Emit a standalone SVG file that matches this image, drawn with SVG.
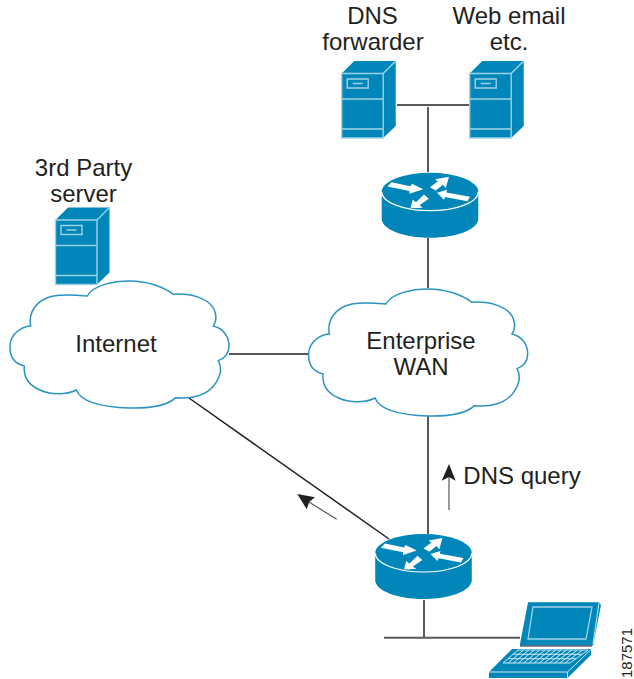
<svg xmlns="http://www.w3.org/2000/svg" width="634" height="679" viewBox="0 0 634 679">
<style>
text{font-family:"Liberation Sans",Arial,sans-serif;font-size:24px;fill:#231f20;text-anchor:middle}
.ln{fill:none;stroke:#231f20;stroke-width:1.5}
.gl{fill:none;stroke:#58595b;stroke-width:2}
.th{fill:none;stroke:#58595b;stroke-width:1.2}
.cl{fill:#fff;stroke:#2a93c2;stroke-width:4.5}
.sb{fill:#0086b9}
.se{fill:none;stroke:#9fd2e6;stroke-width:1.400}
.wh{fill:#fff}
</style>
<defs>
<path id="cloud" class="cl" d="M262 288C280 255 340 243 390 243C440 243 490 260 520 283C560 280 640 290 647 345C650 360 645 370 640 378C670 385 688 410 687 440C686 460 672 475 655 482C665 500 665 520 650 545C625 590 570 597 527 593C500 620 440 625 390 624C320 622 245 610 229 570C200 585 150 585 120 570C85 555 70 530 73 498C40 490 28 465 30 435C32 405 60 380 92 378C85 340 105 300 160 288C190 282 230 285 262 288Z"/>
<g id="srv">
<path class="sb" d="M0 12.500L12.500 0H54V65L41.500 77H0Z"/>
<path class="se" d="M0 12.500H41.500V77H0ZM41.500 12.500L54 0M0 38H41.500M0 68H41.500M5.500 18H26.500V27H5.500ZM11 22.500H21"/>
</g>
<g id="rtr">
<path class="sb" d="M-48.300 0V27C-48.300 37.500 -26.700 46 0 46S48.300 37.500 48.300 27V0Z"/>
<ellipse class="sb" cx="0" cy="0" rx="48.300" ry="19"/>
<path fill="none" stroke="#fff" stroke-width="1.200" d="M-48.300 0A48.300 19 0 0 0 48.300 0"/>
<path class="wh" d="M-42.700 -5.300L-38.500 -9.500L-19.500 -5.500L-18 -8L-6.800 -2.500L-20.500 2L-20.500 -0.800Z"/>
<path class="wh" d="M0 -4.500L7.800 -10.500L5 -12.500L19 -15L15.800 -3.800L13 -7L5.800 -1.200Z"/>
<path class="wh" d="M7 1L17 -2L16.300 0.800L40 5L37.500 9.500L15 5.300L14 8Z"/>
<path class="wh" d="M-19.500 16.500L-17.300 8L-14 10.500L-6 2.800L-1.200 7L-10.500 13.500L-7.300 16Z"/>
</g>
</defs>
<g id="connectors">
<path class="gl" d="M397 105H469M428 107V172M428 238V288M428 416V534M424 600V637.700M384 637.700H520"/>
<path class="ln" d="M229 354H309M189 398L389 539"/>
<path class="th" d="M449 477V510M309 502L336.700 519.300"/>
<path fill="#231f20" d="M449 464L455.700 480.700L449 477L441.700 480.700ZM297.300 494L315 497.300L309.300 501.700L306.700 509.300Z"/>
</g>
<g id="dns-forwarder"><use href="#srv" x="341.700" y="61"/><text x="372.500" y="24">DNS</text><text x="373" y="50">forwarder</text></g>
<g id="web-email"><use href="#srv" x="469.700" y="61"/><text x="509" y="24">Web email</text><text x="509" y="50">etc.</text></g>
<g id="router-top"><use href="#rtr" x="430" y="191.700"/></g>
<g id="third-party"><use href="#srv" x="55.500" y="207.500"/><text x="83.500" y="176">3rd Party</text><text x="83.500" y="202">server</text></g>
<g id="internet"><use href="#cloud" transform="translate(0,200) scale(.3333)"/><text x="116" y="352">Internet</text></g>
<g id="enterprise-wan"><use href="#cloud" transform="translate(298.700,208) scale(.3333)"/><text x="421" y="349">Enterprise</text><text x="421" y="375">WAN</text></g>
<g id="router-bottom"><use href="#rtr" x="423.500" y="553"/></g>
<g id="laptop">
<path class="sb" d="M520 644L528 602.300H599L601 605L593 645.500H520Z"/>
<path fill="none" stroke="#fff" stroke-width=".8" d="M599 602.500L593 644"/>
<path fill="none" stroke="#9fd2e6" stroke-width="1.300" d="M533 607H592L586 639H528Z"/>
<path fill="none" stroke="#231f20" stroke-width="1" d="M520 646H592"/>
<path class="sb" d="M512 649H591V655L567.500 678H489V672Z"/>
<path fill="none" stroke="#cfe8f2" stroke-width="1" d="M489 672H567.500L591 649.500M567.500 672V678M518 650H588M513 654.300H582M508 658.700H576M503 663H570M518 650L503 663M523.400 650L508.200 663M528.800 650L513.300 663M534.200 650L518.500 663M539.600 650L523.600 663M545 650L528.800 663M550.400 650L533.900 663M555.800 650L539.100 663M561.200 650L544.200 663M566.600 650L549.400 663M572 650L554.500 663M577.400 650L559.700 663M582.800 650L564.800 663M588.200 650L570 663"/>
</g>
<g id="labels">
<text x="522" y="484">DNS query</text>
<text transform="translate(632,653) rotate(-90)" style="font-size:15px">187571</text>
</g>
</svg>
